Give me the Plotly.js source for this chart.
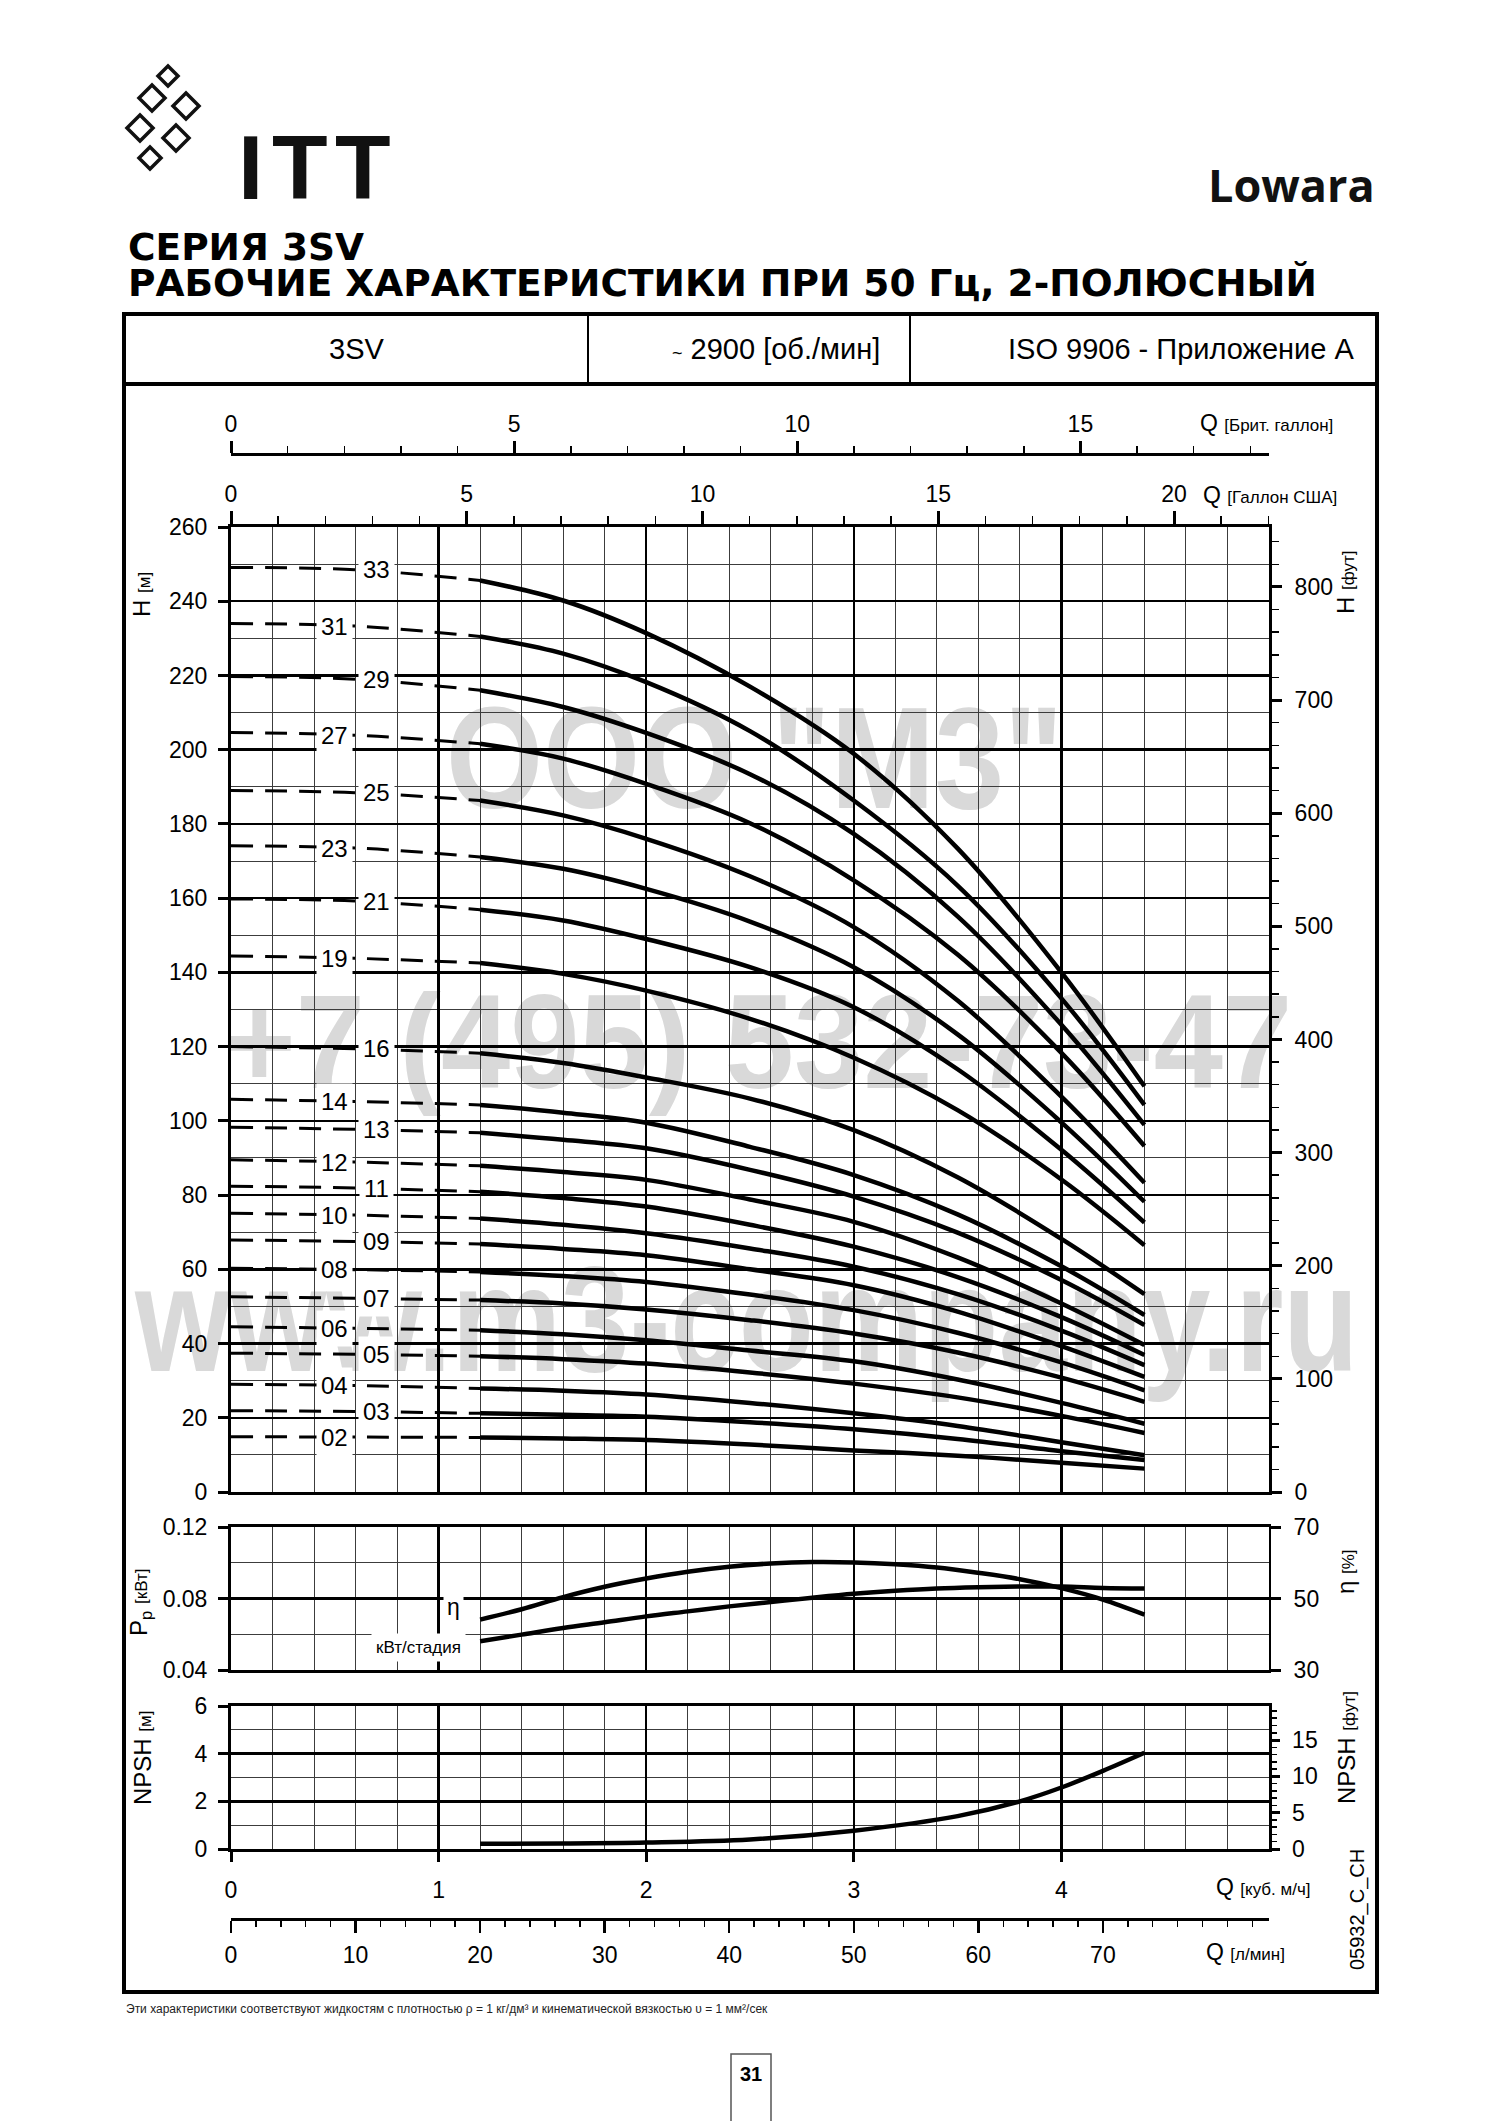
<!DOCTYPE html>
<html><head><meta charset="utf-8">
<script src="https://cdn.plot.ly/plotly-3.0.1.min.js"></script>
<style>
html,body{margin:0;padding:0;background:#fff;}
#wrap{position:relative;width:1500px;height:2121px;overflow:hidden;background:#fff;}
.wm{position:absolute;white-space:nowrap;line-height:1;color:#d9d9d9;font-family:'Liberation Sans',Arial,sans-serif;font-weight:bold;transform-origin:0 0;}
#chart{position:absolute;left:0;top:0;width:1500px;height:2121px;}
</style></head><body>
<div id="wrap">
<div class="wm" style="left:446px;top:686px;font-size:145px;transform:scaleX(0.86)">ООО "М3"</div>
<div class="wm" style="left:223px;top:976px;font-size:133px;transform:scaleX(0.936)">+7 (495) 532-73-47</div>
<div class="wm" style="left:135px;top:1244px;font-size:150px;transform:scaleX(0.82)">www.m3-company.ru</div>
<div id="chart"></div>
</div>
<script>
// ---------- DATA ----------
const Q_H = [0, 0.6, 1.2, 1.6, 2.0, 2.5, 3.0, 3.5, 4.0, 4.4];   // m3/h
const H_02 = [14.9, 14.8, 14.7, 14.4, 14.0, 12.8, 11.2, 9.8, 7.9, 6.3];
const H_03 = [21.9, 21.7, 21.2, 20.8, 20.3, 18.8, 16.9, 14.3, 11.0, 8.6];
const H_04 = [29.0, 28.7, 27.9, 27.3, 26.3, 24.0, 21.2, 17.8, 13.4, 9.9];
const H_05 = [37.4, 37.1, 36.6, 35.8, 34.6, 32.2, 29.2, 25.5, 20.5, 15.9];
const H_06 = [44.5, 44.1, 43.6, 42.5, 40.9, 38.1, 35.2, 30.3, 24.0, 18.4];
const H_07 = [52.6, 52.2, 51.7, 50.8, 49.2, 46.3, 42.7, 37.6, 30.8, 24.3];
const H_08 = [60.3, 59.9, 59.3, 58.2, 56.6, 53.2, 49.0, 42.9, 34.9, 27.4];
const H_09 = [67.9, 67.5, 66.8, 65.5, 63.8, 60.0, 55.7, 48.6, 39.3, 31.0];
const H_10 = [75.1, 74.6, 73.7, 72.0, 69.7, 65.6, 60.7, 53.3, 43.5, 34.2];
const H_11 = [82.4, 81.9, 80.9, 79.2, 76.9, 72.0, 66.1, 57.9, 47.1, 36.9];
const H_12 = [89.5, 88.9, 87.9, 86.2, 84.1, 78.8, 72.8, 63.2, 50.8, 39.6];
const H_13 = [98.3, 97.7, 96.8, 94.9, 92.6, 86.8, 79.6, 69.9, 57.1, 45.0];
const H_14 = [105.8, 105.2, 104.3, 102.2, 99.5, 93.0, 85.4, 74.8, 60.8, 47.7];
const H_16 = [120.0, 119.4, 118.2, 115.6, 111.7, 106.0, 97.5, 84.8, 68.2, 53.3];
const H_19 = [144.4, 143.8, 142.5, 139.6, 135.1, 127.5, 117.0, 102.9, 84.2, 66.5];
const H_21 = [159.8, 159.2, 156.9, 154.0, 149.0, 141.4, 130.6, 113.9, 92.2, 72.6];
const H_23 = [174.1, 173.5, 171.1, 167.9, 162.5, 153.7, 141.4, 123.3, 99.6, 78.2];
const H_25 = [189.0, 188.4, 186.3, 182.3, 176.0, 165.9, 152.2, 132.4, 106.5, 83.3];
const H_27 = [204.6, 203.9, 201.6, 197.6, 190.8, 180.2, 164.8, 144.8, 118.3, 93.2];
const H_29 = [219.7, 219.0, 216.0, 211.5, 204.5, 193.4, 177.3, 155.1, 125.9, 98.9];
const H_31 = [234.0, 233.3, 230.5, 225.9, 218.2, 205.0, 186.3, 163.4, 133.0, 104.3];
const H_33 = [249.1, 248.5, 245.6, 240.2, 231.4, 217.0, 198.9, 173.4, 140.0, 109.3];
const MODELS = ['02','03','04','05','06','07','08','09','10','11','12','13','14','16','19','21','23','25','27','29','31','33'];
const LABEL_SIDE = ['L','R','L','R','L','R','L','R','L','R','L','R','L','R','L','R','L','R','L','R','L','R'];
const H_SERIES = [H_02,H_03,H_04,H_05,H_06,H_07,H_08,H_09,H_10,H_11,H_12,H_13,H_14,H_16,H_19,H_21,H_23,H_25,H_27,H_29,H_31,H_33];

const Q_P = [1.2, 1.4, 1.6, 1.8, 2.0, 2.2, 2.4, 2.6, 2.8, 3.0, 3.2, 3.4, 3.6, 3.8, 4.0, 4.2, 4.4];
const ETA = [44.1, 47.0, 50.4, 53.3, 55.6, 57.5, 58.9, 59.8, 60.2, 60.1, 59.6, 58.7, 57.2, 55.4, 52.9, 49.7, 45.5];
const PP  = [0.0561, 0.0598, 0.0635, 0.0667, 0.0700, 0.0728, 0.0756, 0.0780, 0.0804, 0.0826, 0.0843, 0.0856, 0.0863, 0.0867, 0.0867, 0.0859, 0.0856];

const Q_N  = [1.2, 1.6, 2.0, 2.5, 3.0, 3.5, 3.8, 4.0, 4.2, 4.4];
const NPSH = [0.22, 0.23, 0.27, 0.40, 0.77, 1.38, 2.0, 2.58, 3.28, 4.04];

const TICKS_LMIN = [0, 10, 20, 30, 40, 50, 60, 70];
const TICKS_M3H = [0, 1, 2, 3, 4];

// ---------- HELPERS ----------
const W = 1500, HH = 2121;
const px = x => x / W, py = y => 1 - y / HH;
const FONT = 'Liberation Sans, Arial, sans-serif';
const BLACK = '#000', THIN = '#3c3c3c';
const tf = {family: FONT, size: 23, color: BLACK};
const XD = [px(231), px(1269)];
const YD_MAIN = [py(1492), py(527)];
const YD_PP = [py(1670), py(1527)];
const YD_N = [py(1849), py(1706)];

function gridX(extra) {
  return Object.assign({range: [0, 5], domain: XD, dtick: 1, tick0: 0, showgrid: true, gridcolor: BLACK, gridwidth: 2.5,
    minor: {dtick: 0.2, tick0: 0, showgrid: true, gridcolor: THIN, gridwidth: 1},
    zeroline: false, showline: true, linecolor: BLACK, linewidth: 3, ticks: '', showticklabels: false, fixedrange: true}, extra);
}
function A(text, x, y, size, opts) {
  return Object.assign({text: text, x: px(x), y: py(y), xref: 'paper', yref: 'paper', showarrow: false,
    font: {family: FONT, size: size, color: BLACK}, xanchor: 'center', yanchor: 'middle'}, opts || {});
}

// ---------- TRACES ----------
const traces = [];
const annotations = [];
H_SERIES.forEach((h, i) => {
  traces.push({type: 'scatter', mode: 'lines', x: Q_H.slice(0, 3), y: h.slice(0, 3), xaxis: 'x', yaxis: 'y',
    line: {color: BLACK, width: 3, dash: '22px,12px', shape: 'spline'}, hoverinfo: 'skip'});
  traces.push({type: 'scatter', mode: 'lines', x: Q_H.slice(2), y: h.slice(2), xaxis: 'x', yaxis: 'y',
    line: {color: BLACK, width: 4.5, shape: 'spline'}, hoverinfo: 'skip'});
  annotations.push({text: MODELS[i], x: LABEL_SIDE[i] === 'L' ? 0.5 : 0.7, y: h[1], xref: 'x', yref: 'y',
    showarrow: false, bgcolor: '#fff', borderpad: 4, font: {family: FONT, size: 24, color: BLACK}});
});
traces.push({type: 'scatter', mode: 'lines', x: Q_P, y: PP, xaxis: 'x3', yaxis: 'y3', line: {color: BLACK, width: 4.5, shape: 'spline'}, hoverinfo: 'skip'});
traces.push({type: 'scatter', mode: 'lines', x: Q_P, y: ETA, xaxis: 'x3', yaxis: 'y4', line: {color: BLACK, width: 4.5, shape: 'spline'}, hoverinfo: 'skip'});
traces.push({type: 'scatter', mode: 'lines', x: Q_N, y: NPSH, xaxis: 'x4', yaxis: 'y5', line: {color: BLACK, width: 4.5, shape: 'spline'}, hoverinfo: 'skip'});
// transparent carriers so that the secondary unit scales (ft, US gal, imp gal, l/min) are drawn
[['x', 'y2'], ['x2', 'y'], ['x5', 'y7'], ['x6', 'y8'], ['x4', 'y6']].forEach(p => {
  traces.push({type: 'scatter', mode: 'lines', x: Q_N, y: NPSH, xaxis: p[0], yaxis: p[1], opacity: 0, line: {width: 0.1}, hoverinfo: 'skip'});
});

// ---------- TEXT ----------
const sm = s => '<span style="font-size:17px">' + s + '</span>';
const qs = s => '<span style="font-size:17px">' + s + '</span>';
annotations.push(
  A('<b>СЕРИЯ 3SV</b>', 126, 247, 37.5, {xanchor: 'left', font: {family: 'DejaVu Sans, Liberation Sans', size: 37.5, color: BLACK}}),
  A('<b>РАБОЧИЕ ХАРАКТЕРИСТИКИ ПРИ 50 Гц, 2-ПОЛЮСНЫЙ</b>', 126, 283, 37.5, {xanchor: 'left', font: {family: 'DejaVu Sans, Liberation Sans', size: 37.5, color: BLACK}}),
  A('<b>Lowara</b>', 1377, 185, 45, {xanchor: 'right', font: {family: 'Open Sans, Liberation Sans', size: 45, color: '#111'}}),
  A('<b>I</b>', 250, 168, 91, {font: {family: FONT, size: 91, color: '#111'}}),
  A('<b>T</b>', 300, 168, 91, {font: {family: FONT, size: 91, color: '#111'}}),
  A('<b>T</b>', 363, 168, 91, {font: {family: FONT, size: 91, color: '#111'}}),
  A('3SV', 356, 349, 29),
  A('<span style="font-size:18px">~</span> 2900 [об./мин]', 776, 349, 29),
  A('ISO 9906 - Приложение A', 1181, 349, 29),
  A('Q ' + qs('[Брит. галлон]'), 1198, 423, 23, {xanchor: 'left'}),
  A('Q ' + qs('[Галлон США]'), 1201, 495, 23, {xanchor: 'left'}),
  A('Q ' + qs('[куб. м/ч]'), 1214, 1887, 23, {xanchor: 'left'}),
  A('Q ' + qs('[л/мин]'), 1204, 1952, 23, {xanchor: 'left'}),
  A('H ' + sm('[м]'), 142, 595, 24, {textangle: -90}),
  A('H ' + sm('[фут]'), 1346, 582, 24, {textangle: -90}),
  A('P<sub>p</sub> ' + sm('[кВт]'), 140, 1603, 24, {textangle: -90}),
  A('η ' + sm('[%]'), 1346, 1572, 24, {textangle: -90}),
  A('NPSH ' + sm('[м]'), 142, 1758, 24, {textangle: -90}),
  A('NPSH ' + sm('[фут]'), 1346, 1748, 24, {textangle: -90}),
  A('05932_C_CH', 1357, 1910, 20, {textangle: -90}),
  A('η', 454, 1607, 23, {bgcolor: '#fff', borderpad: 3}),
  A('кВт/стадия', 418, 1647, 17, {bgcolor: '#fff', borderpad: 4}),
  A('Эти характеристики соответствуют жидкостям с плотностью ρ = 1 кг/дм³ и кинематической вязкостью υ = 1 мм²/сек', 124, 2009, 12, {xanchor: 'left', font: {family: FONT, size: 12, color: '#222'}}),
  A('<b>31</b>', 751, 2074, 20)
);

// ---------- SHAPES ----------
const shapes = [
  {type: 'rect', xref: 'paper', yref: 'paper', x0: px(124), x1: px(1377), y0: py(1992), y1: py(314), line: {color: BLACK, width: 4}},
  {type: 'line', xref: 'paper', yref: 'paper', x0: px(124), x1: px(1377), y0: py(384), y1: py(384), line: {color: BLACK, width: 4}},
  {type: 'line', xref: 'paper', yref: 'paper', x0: px(588), x1: px(588), y0: py(314), y1: py(384), line: {color: BLACK, width: 2}},
  {type: 'line', xref: 'paper', yref: 'paper', x0: px(910), x1: px(910), y0: py(314), y1: py(384), line: {color: BLACK, width: 2}},
  {type: 'path', xref: 'paper', yref: 'paper', path: 'M' + px(731) + ',' + py(2121) + ' L' + px(731) + ',' + py(2054) + ' L' + px(771) + ',' + py(2054) + ' L' + px(771) + ',' + py(2121), line: {color: '#555', width: 1.5}}
];
// logo (decorative diamonds)
const LOGO = [[168, 76, 10], [152, 98, 13], [186, 106, 13], [140, 128, 13], [176, 138, 13], [150, 158, 11]];
LOGO.forEach(d => {
  const [cx, cy, r] = d;
  shapes.push({type: 'path', xref: 'paper', yref: 'paper',
    path: 'M' + px(cx) + ',' + py(cy - r) + ' L' + px(cx + r) + ',' + py(cy) + ' L' + px(cx) + ',' + py(cy + r) + ' L' + px(cx - r) + ',' + py(cy) + ' Z',
    line: {color: '#111', width: 3.5}, fillcolor: '#fff'});
});

// ---------- LAYOUT ----------
const layout = {
  width: W, height: HH, margin: {l: 0, r: 0, t: 0, b: 0},
  paper_bgcolor: 'rgba(0,0,0,0)', plot_bgcolor: 'rgba(0,0,0,0)', showlegend: false,
  font: {family: FONT, color: BLACK},
  xaxis: gridX({anchor: 'y'}),
  yaxis: {domain: YD_MAIN, anchor: 'x', range: [0, 260], dtick: 20, tick0: 0, showgrid: true, gridcolor: BLACK, gridwidth: 2.5,
    minor: {dtick: 10, tick0: 0, showgrid: true, gridcolor: THIN, gridwidth: 1}, zeroline: false, showline: true, linewidth: 3, linecolor: BLACK,
    ticks: 'outside', ticklen: 10, tickwidth: 3, tickcolor: BLACK, tickfont: tf, ticklabelstandoff: 6, fixedrange: true},
  yaxis2: {overlaying: 'y', side: 'right', anchor: 'x', range: [0, 260 / 0.3048], dtick: 100, tick0: 0, showgrid: false, zeroline: false,
    showline: true, linewidth: 3, linecolor: BLACK, ticks: 'outside', ticklen: 10, tickwidth: 3, tickcolor: BLACK,
    minor: {dtick: 20, tick0: 0, ticks: 'outside', ticklen: 7, tickwidth: 1.5, tickcolor: BLACK, showgrid: false}, tickfont: tf, ticklabelstandoff: 8, fixedrange: true},
  xaxis2: {overlaying: 'x', side: 'top', anchor: 'y', range: [0, 5 / 0.2271247], dtick: 5, tick0: 0, showgrid: false, zeroline: false,
    showline: true, linewidth: 3, linecolor: BLACK, ticks: 'outside', ticklen: 13, tickwidth: 3, tickcolor: BLACK,
    minor: {dtick: 1, tick0: 0, ticks: 'outside', ticklen: 8, tickwidth: 1.5, tickcolor: BLACK, showgrid: false}, tickfont: tf, ticklabelstandoff: 0, fixedrange: true},
  xaxis5: {anchor: 'y7', domain: XD, side: 'top', range: [0, 5 / 0.272765], dtick: 5, tick0: 0, showgrid: false, zeroline: false,
    showline: true, linewidth: 3, linecolor: BLACK, ticks: 'outside', ticklen: 12, tickwidth: 3, tickcolor: BLACK,
    minor: {dtick: 1, tick0: 0, ticks: 'outside', ticklen: 7, tickwidth: 1.5, tickcolor: BLACK, showgrid: false}, tickfont: tf, ticklabelstandoff: 0, fixedrange: true},
  yaxis7: {anchor: 'x5', domain: [py(456) - 0.004, py(456)], range: [0, 1], visible: false, fixedrange: true},
  xaxis6: {anchor: 'y8', domain: XD, side: 'bottom', range: [0, 5 / 0.06], tickmode: 'array', tickvals: TICKS_LMIN,
    showgrid: false, zeroline: false, showline: true, linewidth: 3, linecolor: BLACK, ticks: 'outside', ticklen: 12, tickwidth: 2.5, tickcolor: BLACK,
    minor: {dtick: 2, tick0: 0, ticks: 'outside', ticklen: 6, tickwidth: 1.5, tickcolor: BLACK, showgrid: false}, tickfont: tf, ticklabelstandoff: 2, fixedrange: true},
  yaxis8: {anchor: 'x6', domain: [py(1918), py(1918) + 0.004], range: [0, 1], visible: false, fixedrange: true},
  xaxis3: gridX({anchor: 'y3', mirror: true}),
  yaxis3: {domain: YD_PP, anchor: 'x3', range: [0.04, 0.12], dtick: 0.04, tick0: 0.04, tickformat: '.2f', showgrid: true, gridcolor: BLACK, gridwidth: 2.5,
    minor: {dtick: 0.02, tick0: 0.04, showgrid: true, gridcolor: THIN, gridwidth: 1}, zeroline: false, showline: true, linewidth: 3, linecolor: BLACK,
    ticks: 'outside', ticklen: 10, tickwidth: 3, tickcolor: BLACK, tickfont: tf, ticklabelstandoff: 6, fixedrange: true},
  yaxis4: {overlaying: 'y3', side: 'right', anchor: 'x3', range: [30, 70], dtick: 20, tick0: 30, showgrid: false, zeroline: false,
    showline: true, linewidth: 2, linecolor: BLACK, ticks: 'outside', ticklen: 10, tickwidth: 3, tickcolor: BLACK, tickfont: tf, ticklabelstandoff: 8, fixedrange: true},
  xaxis4: gridX({anchor: 'y5', mirror: true, tickmode: 'array', tickvals: TICKS_M3H, showticklabels: true,
    ticks: 'outside', ticklen: 10, tickwidth: 3, tickcolor: BLACK, tickfont: tf, ticklabelstandoff: 8}),
  yaxis5: {domain: YD_N, anchor: 'x4', range: [0, 6], dtick: 2, tick0: 0, showgrid: true, gridcolor: BLACK, gridwidth: 2.5,
    minor: {dtick: 1, tick0: 0, showgrid: true, gridcolor: THIN, gridwidth: 1}, zeroline: false, showline: true, linewidth: 3, linecolor: BLACK,
    ticks: 'outside', ticklen: 10, tickwidth: 3, tickcolor: BLACK, tickfont: tf, ticklabelstandoff: 6, fixedrange: true},
  yaxis6: {overlaying: 'y5', side: 'right', anchor: 'x4', range: [0, 6 / 0.3048], dtick: 5, tick0: 0, showgrid: false, zeroline: false,
    showline: true, linewidth: 2.5, linecolor: BLACK, ticks: 'outside', ticklen: 8, tickwidth: 3, tickcolor: BLACK,
    minor: {dtick: 1, tick0: 0, ticks: 'outside', ticklen: 5, tickwidth: 1.5, tickcolor: BLACK, showgrid: false}, tickfont: tf, ticklabelstandoff: 8, fixedrange: true},
  annotations: annotations,
  shapes: shapes
};

Plotly.newPlot('chart', traces, layout, {displayModeBar: false, staticPlot: true});
</script>
</body></html>
